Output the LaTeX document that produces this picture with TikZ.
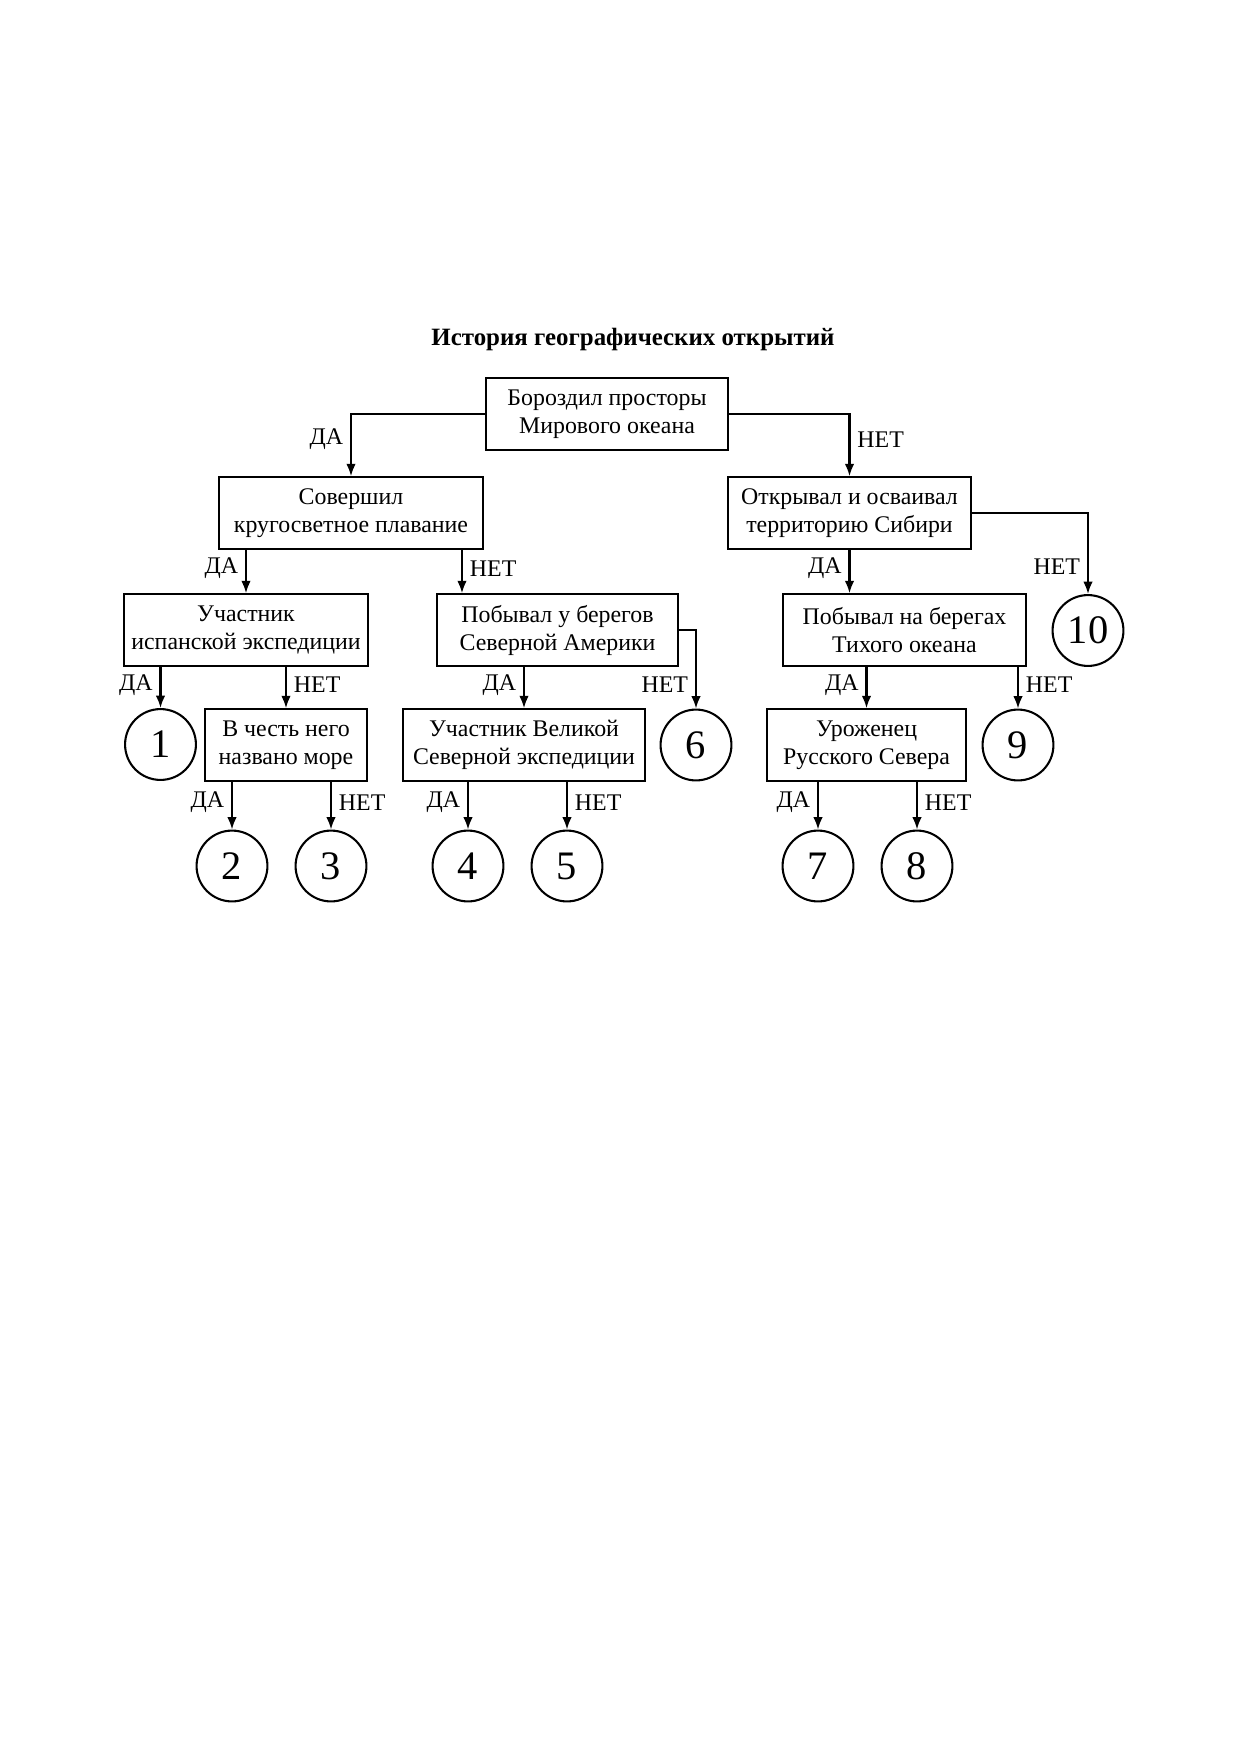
\documentclass[tikz,border=0pt]{standalone}
\usepackage{fontspec}
\setmainfont{Liberation Serif}
\usetikzlibrary{arrows.meta,calc}

\begin{document}
\begin{tikzpicture}[x=0.016935cm,y=-0.016935cm,
	box_node/.style={rectangle,draw,line width=1pt,minimum height=1.21cm,inner sep=2pt,align=center,font=\fontsize{11.5}{13.5}\selectfont},
	end_node/.style={circle,draw,line width=1pt,minimum size=1.2cm,inner sep=0pt,font=\fontsize{19.5}{19.5}\selectfont},
	arrow_line/.style={draw,line width=1pt,-{Latex[length=6pt,width=4.6pt]}},
	yes_no/.style={font=\fontsize{11.5}{13.5}\selectfont}]

		\useasboundingbox (0,0) rectangle (1240,1754);
		% coordinates are in pixels of the A4 page, y grows downwards

		\node[font=\bfseries\fontsize{12}{14}\selectfont] (title) at (633,340) {История географических открытий};

		% questions
		\node[box_node,minimum width=4.098cm] (q1) at (607,414) {Бороздил просторы\\Мирового океана};
		\node[box_node,minimum width=4.471cm] (q2) at (351,513) {Совершил\\кругосветное плавание};
		\node[box_node,minimum width=4.115cm] (q3) at (849.5,513) {Открывал и осваивал\\территорию Сибири};
		\node[box_node,minimum width=4.132cm] (q4) at (246,630) {Участник\\испанской экспедиции};
		\node[box_node,minimum width=4.081cm] (q5) at (557.5,630) {Побывал у берегов\\Северной Америки};
		\node[box_node,minimum width=4.115cm] (q6) at (904.5,630) {Побывал на берегах\\Тихого океана};
		\node[box_node,minimum width=2.743cm] (q7) at (286,745) {В честь него\\названо море};
		\node[box_node,minimum width=4.098cm] (q8) at (524,745) {Участник Великой\\Северной экспедиции};
		\node[box_node,minimum width=3.370cm] (q9) at (866.5,745) {Уроженец\\Русского Севера};

		% answers
		\node[end_node] (1) at (160.5,744.5){1};
		\node[end_node] (2) at (232,866){2};
		\node[end_node] (3) at (331,866){3};
		\node[end_node] (4) at (468,866){4};
		\node[end_node] (5) at (567,866){5};
		\node[end_node] (6) at (696,745){6};
		\node[end_node] (7) at (818,866){7};
		\node[end_node] (8) at (917,866){8};
		\node[end_node] (9) at (1018,745){9};
		\node[end_node] (10) at (1088,630.5){10};

		\coordinate (a5) at ($(q5.north west)+(26,0)$);

		% elbow arrows
		\draw[arrow_line] (q1.west) -| node[yes_no,pos=0.705,left] {ДА} (q2.north);
		\draw[arrow_line] (q1.east) -| node[yes_no,pos=0.705,right] {НЕТ} (q3.north);
		\draw[arrow_line] (q3.east) -| node[yes_no,pos=0.83,left] {НЕТ} (10.north);
		\draw[arrow_line] (q5.east) -| node[yes_no,pos=0.85,left] {НЕТ} (6.north);

		% straight arrows
		\path
		(q2.south -| q4.north) edge[arrow_line] node[yes_no,pos=0.43,left] {ДА} (q4.north)
		(q2.south -| a5) edge[arrow_line] node[yes_no,pos=0.43,right] {НЕТ} (a5)
		(q3.south) edge[arrow_line] node[yes_no,pos=0.43,left] {ДА} (q3.south |- q6.north)
		(q4.south -| 1.north) edge[arrow_line] node[yes_no,pos=0.44,left] {ДА} (1.north)
		(q4.south -| q7.north) edge[arrow_line] node[yes_no,pos=0.44,right] {НЕТ} (q7.north)
		(q5.south -| q8.north) edge[arrow_line] node[yes_no,pos=0.44,left] {ДА} (q8.north)
		(q6.south -| q9.north) edge[arrow_line] node[yes_no,pos=0.44,left] {ДА} (q9.north)
		(q6.south -| 9.north) edge[arrow_line] node[yes_no,pos=0.44,right] {НЕТ} (9.north)
		(q7.south -| 2.north) edge[arrow_line] node[yes_no,pos=0.43,left] {ДА} (2.north)
		(q7.south -| 3.north) edge[arrow_line] node[yes_no,pos=0.43,right] {НЕТ} (3.north)
		(q8.south -| 4.north) edge[arrow_line] node[yes_no,pos=0.43,left] {ДА} (4.north)
		(q8.south -| 5.north) edge[arrow_line] node[yes_no,pos=0.43,right] {НЕТ} (5.north)
		(q9.south -| 7.north) edge[arrow_line] node[yes_no,pos=0.43,left] {ДА} (7.north)
		(q9.south -| 8.north) edge[arrow_line] node[yes_no,pos=0.43,right] {НЕТ} (8.north)
		;

	\end{tikzpicture}
\end{document}
